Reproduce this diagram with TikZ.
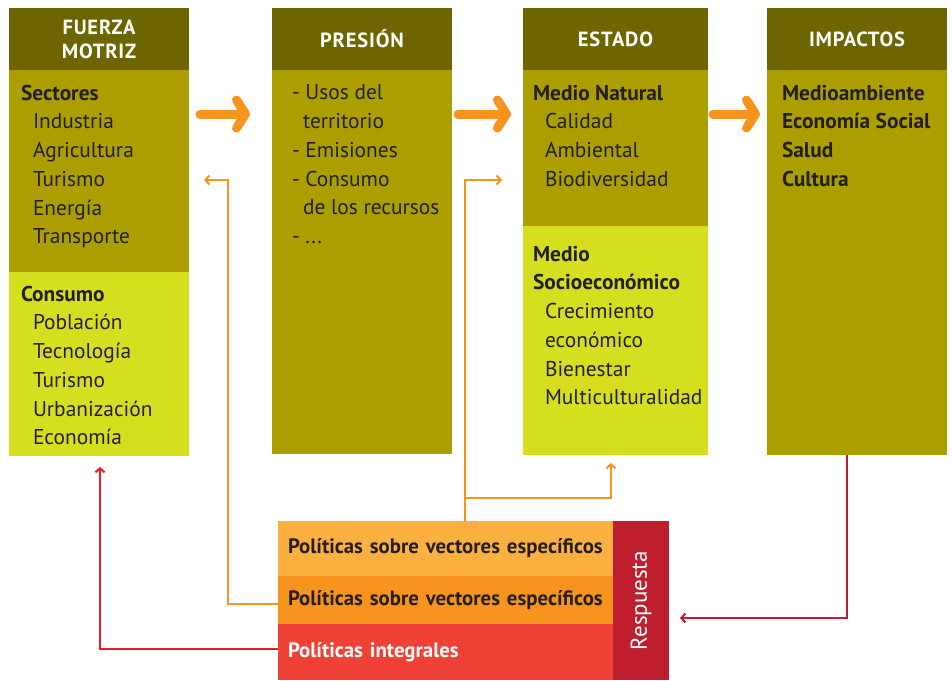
\documentclass[tikz,border=0pt]{standalone}
\usepackage{fontspec}
\setmainfont{PT Sans}
\usetikzlibrary{positioning,arrows.meta}
\definecolor{hdrolive}{RGB}{109,101,0}
\definecolor{bodyolive}{RGB}{173,158,0}
\definecolor{lime}{RGB}{214,222,32}
\definecolor{pollight}{RGB}{251,176,64}
\definecolor{polorange}{RGB}{247,148,29}
\definecolor{polred}{RGB}{239,65,54}
\definecolor{respred}{RGB}{190,30,45}
\definecolor{linered}{RGB}{237,28,36}
\definecolor{txtdark}{RGB}{35,31,32}
\newcommand{\ind}{\hspace*{12pt}}
\tikzstyle{every node}=[inner sep=0, outer sep=0, text=txtdark]
\tikzstyle{hdr}=[fill=hdrolive, minimum width=180pt, minimum height=62pt, anchor=north west, text=white, align=center, font=\fontsize{20.5}{24}\selectfont\bfseries\addfontfeature{LetterSpace=4}]
\tikzstyle{box}=[minimum width=180pt, anchor=north west]
\tikzstyle{lst}=[anchor=north west, align=left, font=\fontsize{21.4}{28.7}\selectfont]
\tikzstyle{pol}=[text width=315pt, inner xsep=10pt, align=left, font=\fontsize{20.8}{24}\selectfont\bfseries]
\tikzstyle{bigarr}=[draw=polorange, line width=9pt, line cap=round, -{Straight Barb[round, length=9pt, width=28pt]}]
\tikzstyle{fb}=[line width=2pt, -{Straight Barb[length=4pt, width=9pt]}]

\begin{document}
\begin{tikzpicture}[x=1pt, y=-1pt]
    \useasboundingbox (0,0) rectangle (952,680);
    % columns
    \node[hdr] (fmhead) at (9,8) {FUERZA\\MOTRIZ};
    \node[box, fill=bodyolive, minimum height=202pt] (fmsect) at (fmhead.south west) {};
    \node[box, fill=lime, minimum height=184pt] (fmcons) at (fmsect.south west) {};
    \node[hdr] (prhead) at (272,8) {PRESIÓN};
    \node[box, fill=bodyolive, minimum height=384pt] (prbody) at (prhead.south west) {};
    \node[hdr, minimum width=185pt] (eshead) at (523,8) {ESTADO};
    \node[box, fill=bodyolive, minimum width=185pt, minimum height=156pt] (esnat) at (eshead.south west) {};
    \node[box, fill=lime, minimum width=185pt, minimum height=229pt] (essoc) at (esnat.south west) {};
    \node[hdr] (imhead) at (767,8) {IMPACTOS};
    \node[box, fill=bodyolive, minimum height=385pt] (imbody) at (imhead.south west) {};

    \node[lst] (fmsecttxt) at ([shift={(12,15)}]fmsect.north west)
        {\textbf{Sectores}\\ \ind Industria\\ \ind Agricultura\\ \ind Turismo\\ \ind Energía\\ \ind Transporte};
    \node[lst] (fmconstxt) at ([shift={(12,14)}]fmcons.north west)
        {\textbf{Consumo}\\ \ind Población\\ \ind Tecnología\\ \ind Turismo\\ \ind Urbanización\\ \ind Economía};
    \node[lst] (prtxt) at ([shift={(20,15)}]prbody.north west)
        {- Usos del\\ \hspace*{11pt}territorio\\ - Emisiones\\ - Consumo\\ \hspace*{11pt}de los recursos\\ - ...};
    \node[lst] (esnattxt) at ([shift={(10,15)}]esnat.north west)
        {\textbf{Medio Natural}\\ \ind Calidad\\ \ind Ambiental\\ \ind Biodiversidad};
    \node[lst] (essoctxt) at ([shift={(10,20)}]essoc.north west)
        {\textbf{Medio}\\ \textbf{Socioeconómico}\\ \ind Crecimiento\\ \ind económico\\ \ind Bienestar\\ \ind Multiculturalidad};
    \node[lst] (imtxt) at ([shift={(15,15)}]imbody.north west)
        {\textbf{Medioambiente}\\ \textbf{Economía Social}\\ \textbf{Salud}\\ \textbf{Cultura}};

    % respuesta
    \node[pol, fill=pollight, minimum height=55pt, anchor=north west] (polA) at (278,521) {Políticas sobre vectores específicos};
    \node[pol, fill=polorange, minimum height=48pt, below=0 of polA] (polB) {Políticas sobre vectores específicos};
    \node[pol, fill=polred, minimum height=56pt, below=0 of polB, text=white] (polC) {Políticas integrales};
    \node[fill=respred, minimum width=56pt, minimum height=159pt, anchor=north west] (resp) at (polA.north east) {};
    \node[rotate=90, text=white, font=\fontsize{23}{24}\selectfont] (resptxt) at (resp) {Respuesta};

    \draw[bigarr] ([shift={(11,44)}]fmsect.north east) -- ([shift={(-22,44)}]prbody.north west);
    \draw[bigarr] ([shift={(6,44)}]prbody.north east) -- ([shift={(-12,44)}]esnat.north west);
    \draw[bigarr] ([shift={(5,44)}]esnat.north east) -- ([shift={(-7,44)}]imbody.north west);

    \coordinate (fbA) at (228,180);
    \coordinate (fbB) at (465,180);
    \coordinate (fbC) at (465,498);
    \coordinate (fbE) at (847,618);
    \draw[fb, polorange, shorten >=15pt] ([yshift=-4pt]polB.west) -| (fbA) -- (fbA -| fmsect.east);
    \draw[fb, polorange, shorten >=21pt] (polA.north -| fbB) -- (fbB) -- (fbB -| esnat.west);
    \draw[fb, polorange, shorten >=8pt] (fbC) -| ([xshift=-4.5pt]essoc.south);
    \draw[fb, linered, shorten >=11pt] ([yshift=3pt]polC.west) -| ([xshift=1pt]fmcons.south);
    \draw[fb, respred, shorten >=11pt] ([xshift=-10pt]imbody.south) |- (fbE) -- (fbE -| resp.east);
\end{tikzpicture}
\end{document}
